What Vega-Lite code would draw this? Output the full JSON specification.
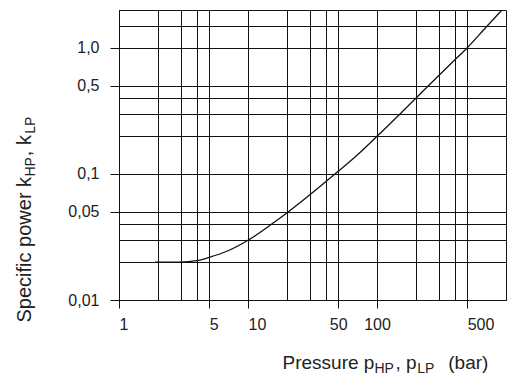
{
  "$schema": "https://vega.github.io/schema/vega-lite/v6.json",
  "autosize": "none",
  "padding": {"left": 119, "top": 10, "right": 3, "bottom": 74},
  "width": 387,
  "height": 290,
  "config": {
    "view": {"stroke": "#111", "strokeWidth": 1},
    "font": "Liberation Sans",
    "axis": {"labelFont": "Liberation Sans", "titleFont": "Liberation Sans", "titleFontWeight": "normal", "titleColor": "#222", "labelColor": "#222"}
  },
  "data": {
    "values": [
      {"p": 1.9, "k": 0.02},
      {"p": 2.5, "k": 0.02},
      {"p": 3, "k": 0.02},
      {"p": 4, "k": 0.0205},
      {"p": 5, "k": 0.0218},
      {"p": 7, "k": 0.0246},
      {"p": 10, "k": 0.0298},
      {"p": 15, "k": 0.0395},
      {"p": 20, "k": 0.049},
      {"p": 30, "k": 0.068},
      {"p": 50, "k": 0.105},
      {"p": 70, "k": 0.141},
      {"p": 100, "k": 0.199},
      {"p": 150, "k": 0.298},
      {"p": 200, "k": 0.399},
      {"p": 300, "k": 0.602},
      {"p": 400, "k": 0.802},
      {"p": 500, "k": 1.0},
      {"p": 700, "k": 1.46},
      {"p": 930, "k": 2.0}
    ]
  },
  "layer": [
    {
      "mark": {"type": "line", "color": "#111", "strokeWidth": 1.3, "interpolate": "monotone", "clip": true},
      "encoding": {
        "x": {
          "field": "p", "type": "quantitative",
          "scale": {"type": "log", "domain": [1, 1000], "nice": false},
          "axis": {
            "orient": "bottom",
            "values": [1, 2, 3, 4, 5, 10, 20, 30, 40, 50, 100, 200, 300, 400, 500],
            "grid": true, "gridColor": "#111", "gridWidth": 1, "gridOpacity": 1,
            "domainColor": "#111", "tickColor": "#111", "tickSize": 8,
            "tickOpacity": {"condition": {"test": "indexof([1,5,10,50,100,500], datum.value) >= 0", "value": 1}, "value": 0},
            "labelExpr": "indexof([1,5,10,50,100,500], datum.value) >= 0 ? format(datum.value, 'd') : ''",
            "labelAlign": {"condition": {"test": "datum.value == 50 || datum.value == 100", "value": "center"}, "value": "left"},
            "labelFontSize": 16, "labelPadding": 8, "labelFlush": false, "labelOverlap": false,
            "title": "Pressure\u00a0p\u00a0\u00a0\u00a0\u00a0,\u00a0p\u00a0\u00a0\u00a0\u00a0\u00a0\u00a0(bar)",
            "titleX": 163, "titleY": 68, "titleAlign": "left", "titleBaseline": "alphabetic", "titleFontSize": 19
          }
        },
        "y": {
          "field": "k", "type": "quantitative",
          "scale": {"type": "log", "domain": [0.01, 2], "nice": false},
          "axis": {
            "orient": "left",
            "values": [0.01, 0.02, 0.03, 0.04, 0.05, 0.1, 0.2, 0.3, 0.4, 0.5, 1, 1.5],
            "grid": true, "gridColor": "#111", "gridWidth": 1, "gridOpacity": 1,
            "domainColor": "#111", "tickColor": "#111", "tickSize": 9,
            "tickOpacity": {"condition": {"test": "indexof([0.01,0.05,0.1,0.5,1], datum.value) >= 0", "value": 1}, "value": 0},
            "labelExpr": "datum.value == 1 ? '1,0' : datum.value == 0.5 ? '0,5' : datum.value == 0.1 ? '0,1' : datum.value == 0.05 ? '0,05' : datum.value == 0.01 ? '0,01' : ''",
            "labelFontSize": 16, "labelPadding": 11, "labelFlush": false, "labelOverlap": false,
            "title": "Specific power k\u00a0\u00a0\u00a0\u2009,\u00a0k",
            "titleX": -89, "titleY": 312, "titleAngle": -90, "titleAlign": "left", "titleBaseline": "alphabetic", "titleFontSize": 20
          }
        }
      }
    },
    {
      "mark": {"type": "point", "opacity": 0},
      "encoding": {
        "x": {
          "field": "p", "type": "quantitative",
          "scale": {"type": "log", "domain": [1, 1000], "nice": false},
          "axis": {
            "orient": "bottom", "labels": false, "ticks": false, "domain": false, "grid": false,
            "title": "HP\u00a0\u00a0\u00a0\u00a0\u00a0\u00a0LP",
            "titleX": 255, "titleY": 72, "titleAlign": "left", "titleBaseline": "alphabetic", "titleFontSize": 14
          }
        },
        "y": {
          "field": "k", "type": "quantitative",
          "scale": {"type": "log", "domain": [0.01, 2], "nice": false},
          "axis": {
            "orient": "left", "labels": false, "ticks": false, "domain": false, "grid": false,
            "title": "HP\u00a0\u00a0\u00a0\u00a0\u00a0\u00a0LP",
            "titleX": -85, "titleY": 166, "titleAngle": -90, "titleAlign": "left", "titleBaseline": "alphabetic", "titleFontSize": 14
          }
        }
      }
    }
  ],
  "resolve": {"axis": {"x": "independent", "y": "independent"}}
}
